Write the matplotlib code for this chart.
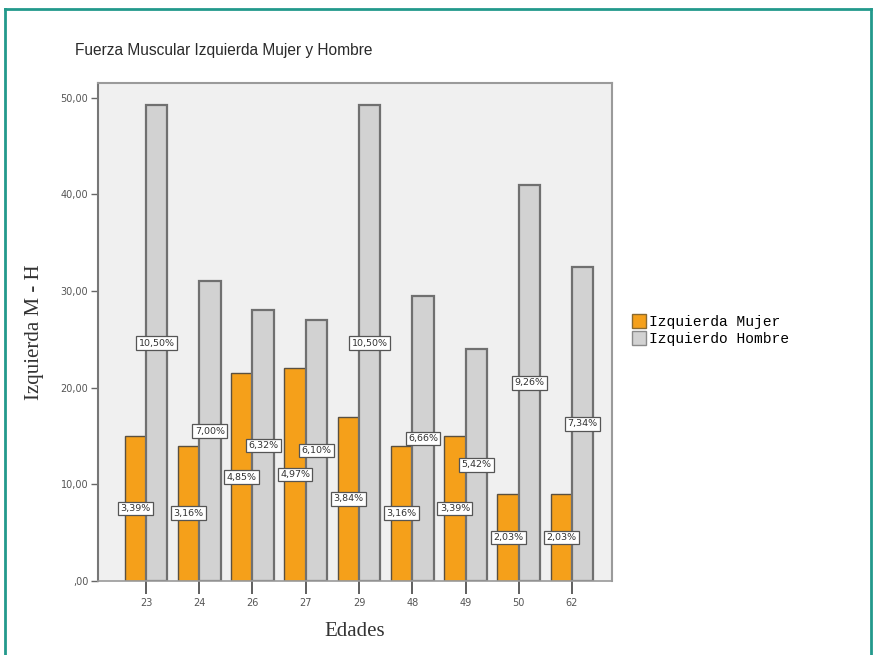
import matplotlib
matplotlib.use("Agg")
import matplotlib.pyplot as plt
from matplotlib.patches import Patch
from matplotlib.lines import Line2D
import numpy as np

# Ages (categories) and left-hand muscular strength per group
edades = ["23", "24", "26", "27", "29", "48", "49", "50", "62"]
izquierda_mujer = [15.0, 14.0, 21.5, 22.0, 17.0, 14.0, 15.0, 9.0, 9.0]
izquierdo_hombre = [49.2, 31.0, 28.0, 27.0, 49.2, 29.5, 24.0, 41.0, 32.5]
pct_mujer = ["3,39%", "3,16%", "4,85%", "4,97%", "3,84%", "3,16%", "3,39%", "2,03%", "2,03%"]
pct_hombre = ["10,50%", "7,00%", "6,32%", "6,10%", "10,50%", "6,66%", "5,42%", "9,26%", "7,34%"]
y_ticks = [0, 10, 20, 30, 40, 50]
y_tick_labels = [",00", "10,00", "20,00", "30,00", "40,00", "50,00"]

ORANGE = "#F5A01A"
GRAY = "#D2D2D2"
EDGE = "#5a5040"
SERIF = "Liberation Serif"
MONO = "Liberation Mono"

fig = plt.figure(figsize=(8.75, 6.55), dpi=100)
fig.patch.set_facecolor("white")

# teal frame around the figure
frame_color = "#23998C"
top = 1 - 9/655
for xs, ys in [([5/875, 5/875], [0, top]),
               ([5/875, 871/875], [top, top]),
               ([871/875, 871/875], [0, top])]:
    fig.add_artist(Line2D(xs, ys, transform=fig.transFigure, color=frame_color, lw=2))

ax = fig.add_axes([98/875, 1 - 581/655, (612 - 98)/875, (581 - 83)/655])
ax.set_facecolor("#F0F0F0")

x = np.arange(len(edades))
w = 0.4
ax.bar(x - w/2, izquierda_mujer, width=w, color=ORANGE, edgecolor=EDGE,
       linewidth=1.0, label="Izquierda Mujer", zorder=2)
ax.bar(x + w/2, izquierdo_hombre, width=w, color=GRAY, edgecolor="#707070",
       linewidth=1.6, label="Izquierdo Hombre", zorder=2)

box = dict(boxstyle="square,pad=0.25", facecolor="white", edgecolor="#555555", linewidth=0.9)
for xi, v, t in zip(x - w/2, izquierda_mujer, pct_mujer):
    ax.text(xi, v / 2, t, ha="center", va="center", fontsize=6.8, color="#333333",
            bbox=box, zorder=4)
for xi, v, t in zip(x + w/2, izquierdo_hombre, pct_hombre):
    ax.text(xi, v / 2, t, ha="center", va="center", fontsize=6.8, color="#333333",
            bbox=box, zorder=4)

ax.set_xlim(-0.9, len(edades) - 1 + 0.75)
ax.set_ylim(0, 51.5)
ax.set_xticks(x)
ax.set_xticklabels(edades, fontsize=7, color="#555555")
ax.set_yticks(y_ticks)
ax.set_yticklabels(y_tick_labels, fontsize=7, color="#555555")
ax.tick_params(axis="x", direction="out", length=9, width=1.2, color="#444444", pad=3)
ax.tick_params(axis="y", direction="out", length=5, width=1.0, color="#666666", pad=2)

for side in ["top", "right"]:
    ax.spines[side].set_color("#9a9a9a")
    ax.spines[side].set_linewidth(1.5)
ax.spines["left"].set_color("#777777")
ax.spines["left"].set_linewidth(1.5)
ax.spines["bottom"].set_color("#9a9a9a")
ax.spines["bottom"].set_linewidth(1.2)

ax.set_xlabel("Edades", fontsize=15, family=SERIF, color="#333333", labelpad=10)
ax.set_ylabel("Izquierda M - H", fontsize=15, family=SERIF, color="#333333", labelpad=12)

fig.text(75/875, 1 - 50/655, "Fuerza Muscular Izquierda Mujer y Hombre", fontsize=11.2,
         family="Liberation Sans", color="#2a2a2a", ha="left", va="center")

handles = [Patch(facecolor=ORANGE, edgecolor="#8a6a30", label="Izquierda Mujer"),
           Patch(facecolor=GRAY, edgecolor="#8a8a8a", label="Izquierdo Hombre")]
fig.legend(handles=handles, loc="center left", bbox_to_anchor=(626/875, 1 - 330/655),
           frameon=False, prop={"family": MONO, "size": 10.5},
           handlelength=1.0, handleheight=1.1, handletextpad=0.15, labelspacing=0.1,
           borderaxespad=0)

fig.savefig("out.png", dpi=100, facecolor="white")
